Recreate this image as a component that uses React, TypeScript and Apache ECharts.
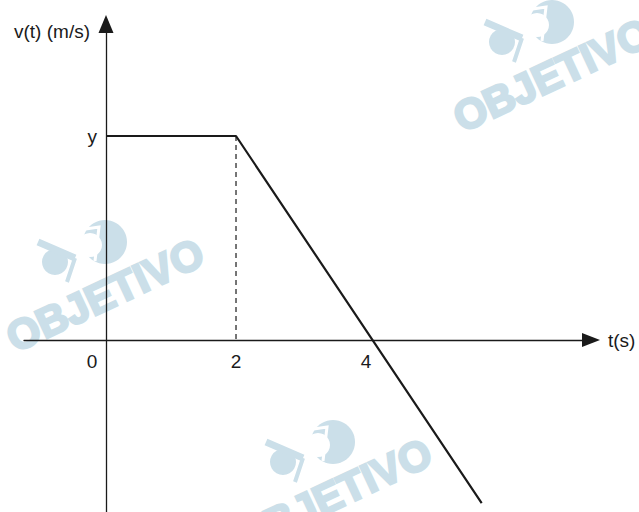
import React, { useEffect, useRef } from "react";
import * as echarts from "echarts";

// data
const velocityPoints: [number, number][] = [
  [0, 1],
  [2, 1],
  [5.78, -0.8],
];
const dashedGuide: [number, number][] = [
  [2, 1],
  [2, 0],
];
const xTickValues = [0, 2, 4];
const xTickLabels = ["0", "2", "4"];
const yTickValues = [1];
const yTickLabels = ["y"];
const xAxisName = "t(s)";
const yAxisName = "v(t) (m/s)";
const watermarkText = "OBJETIVO";

const WM = "#cbdfe9";
const FONT = "'Liberation Sans', Arial, Helvetica, sans-serif";
const FS = 19;

function watermark(cx: number, cy: number): any[] {
  // cx, cy = big circle center
  const rot = (25 * Math.PI) / 180;
  return [
    {
      type: "circle",
      z: -5,
      shape: { cx: cx - 50, cy: cy + 20, r: 13 },
      style: { fill: WM },
      silent: true,
    },
    {
      type: "line",
      z: -5,
      shape: { x1: cx - 67, y1: cy, x2: cx - 30, y2: cy + 16 },
      style: { stroke: WM, lineWidth: 7 },
      silent: true,
    },
    {
      type: "polyline",
      z: -5,
      shape: {
        points: [
          [cx - 30, cy + 16],
          [cx - 38, cy + 40],
        ],
      },
      style: { stroke: WM, lineWidth: 4, fill: "none" },
      silent: true,
    },
    {
      type: "circle",
      z: -5,
      shape: { cx, cy, r: 22 },
      style: { fill: WM },
      silent: true,
    },
    {
      type: "polyline",
      z: -4,
      shape: {
        points: [
          [cx - 26, cy - 12],
          [cx - 6, cy - 15],
          [cx - 10, cy + 19],
        ],
      },
      style: { stroke: "#ffffff", lineWidth: 3, fill: "none" },
      silent: true,
    },
    {
      type: "circle",
      z: -4,
      shape: { cx: cx - 15, cy: cy + 3, r: 12 },
      style: { fill: "#ffffff" },
      silent: true,
    },
    {
      type: "text",
      z: -5,
      x: cx,
      y: cy + 53,
      rotation: rot,
      silent: true,
      style: {
        text: watermarkText,
        fill: WM,
        stroke: WM,
        lineWidth: 2.5,
        font: `bold 42px ${FONT}`,
        align: "center",
        verticalAlign: "middle",
      },
    },
  ];
}

export default function App() {
  const ref = useRef<HTMLDivElement>(null);
  useEffect(() => {
    if (!ref.current) return;
    const chart = echarts.init(ref.current, undefined, { renderer: "svg" });
    chart.setOption({
      animation: false,
      backgroundColor: "#ffffff",
      grid: {
        left: 24,
        right: 48,
        top: 24,
        bottom: 0,
        containLabel: false,
        outerBoundsMode: "none",
      },
      xAxis: {
        type: "value",
        position: "bottom",
        offset: -172,
        min: -1.262,
        max: 7.462,
        name: xAxisName,
        nameLocation: "end",
        nameGap: 17,
        nameTextStyle: { fontFamily: FONT, fontSize: FS, color: "#1a1a1a" },
        splitLine: { show: false },
        axisTick: { show: false },
        axisLine: {
          onZero: false,
          symbol: ["none", "triangle"],
          symbolSize: [14, 18],
          lineStyle: { color: "#1a1a1a", width: 1.3 },
        },
        axisLabel: {
          customValues: xTickValues,
          margin: 12,
          fontFamily: FONT,
          fontSize: FS,
          color: "#1a1a1a",
          formatter: (v: number) => {
            const i = xTickValues.indexOf(v);
            const t = i >= 0 ? xTickLabels[i] : "";
            return v === 0 ? `{o|${t}}` : t;
          },
          rich: {
            o: { fontFamily: FONT, fontSize: FS, color: "#1a1a1a", padding: [0, 28, 0, 0] },
          },
        },
      },
      yAxis: {
        type: "value",
        position: "left",
        offset: -82,
        min: -0.843,
        max: 1.549,
        name: yAxisName,
        nameLocation: "end",
        nameGap: -7,
        nameTextStyle: {
          fontFamily: FONT,
          fontSize: FS,
          color: "#1a1a1a",
          align: "right",
          verticalAlign: "middle",
          padding: [0, 16, 0, 0],
        },
        splitLine: { show: false },
        axisTick: { show: false },
        axisLine: {
          onZero: false,
          symbol: ["none", "triangle"],
          symbolSize: [15, 18],
          lineStyle: { color: "#1a1a1a", width: 1.3 },
        },
        axisLabel: {
          customValues: yTickValues,
          margin: 9,
          fontFamily: FONT,
          fontSize: FS,
          color: "#1a1a1a",
          formatter: (v: number) => {
            const i = yTickValues.indexOf(v);
            return i >= 0 ? yTickLabels[i] : "";
          },
        },
      },
      graphic: [...watermark(105, 242), ...watermark(552, 22), ...watermark(333, 442)],
      series: [
        {
          type: "line",
          data: velocityPoints,
          symbol: "none",
          lineStyle: { color: "#1a1a1a", width: 2.2 },
          z: 3,
        },
        {
          type: "line",
          data: dashedGuide,
          symbol: "none",
          lineStyle: { color: "#1a1a1a", width: 1.2, type: [5, 4] },
          z: 2,
        },
      ],
    });
    return () => chart.dispose();
  }, []);
  return (
    <div
      ref={ref}
      style={{ position: "fixed", left: 0, top: 0, width: 639, height: 512 }}
    />
  );
}
